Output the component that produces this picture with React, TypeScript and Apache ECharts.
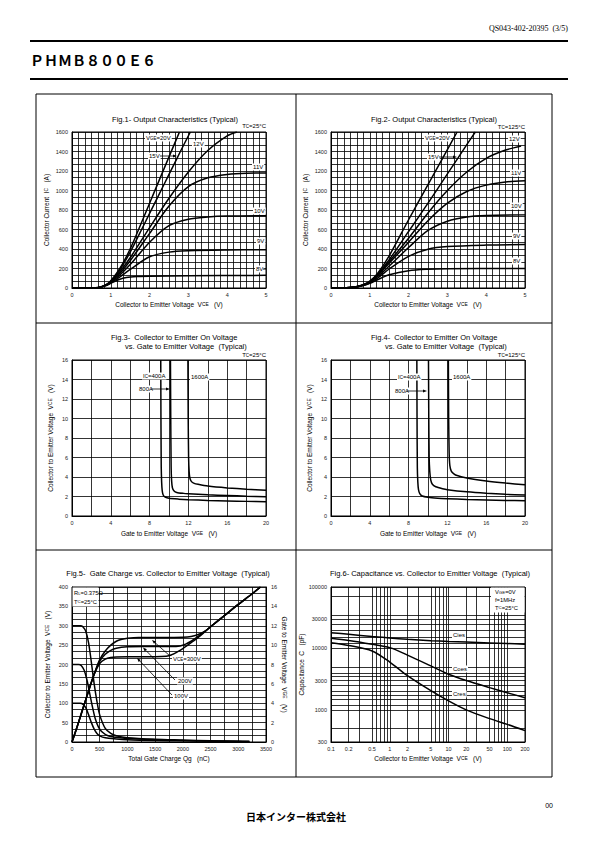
import React, { useEffect, useRef } from "react";
import * as echarts from "echarts";

const SANS = "'Liberation Sans', Arial, Helvetica, sans-serif";
const SERIF = "'Liberation Serif', 'DejaVu Serif', serif";
const CJK = "'Noto Sans CJK JP', 'Noto Sans CJK SC', sans-serif";

// ---------------- Fig.1  Output characteristics, Tc=25°C  [VCE (V), IC (A)]
const fig1Vge20 = [[0,0],[0.5,0],[0.7,6],[0.9,40],[1.0,75],[1.2,180],[1.4,320],[1.6,490],[1.8,680],[2.0,870],[2.2,1060],[2.4,1250],[2.6,1440],[2.77,1600]];
const fig1Vge15 = [[0,0],[0.5,0],[0.7,6],[0.9,38],[1.0,70],[1.2,165],[1.4,295],[1.6,445],[1.8,605],[2.0,765],[2.2,925],[2.4,1085],[2.6,1245],[2.8,1405],[3.05,1600]];
const fig1Vge12 = [[0,0],[0.5,0],[0.7,6],[0.9,36],[1.0,65],[1.2,150],[1.5,310],[2.0,620],[2.5,920],[3.0,1190],[3.5,1410],[4.0,1560],[4.25,1600]];
const fig1Vge11 = [[0,0],[0.5,0],[0.7,6],[0.9,34],[1.0,62],[1.2,135],[1.5,280],[2.0,560],[2.5,840],[3.0,1040],[3.5,1130],[4.0,1165],[4.5,1178],[5.0,1180]];
const fig1Vge10 = [[0,0],[0.5,0],[0.7,5],[0.9,32],[1.0,58],[1.2,120],[1.5,240],[2.0,470],[2.5,640],[3.0,705],[3.5,728],[4.0,738],[5.0,742]];
const fig1Vge9 = [[0,0],[0.5,0],[0.7,5],[0.9,30],[1.0,54],[1.2,105],[1.5,190],[2.0,320],[2.5,368],[3.0,382],[4.0,390],[5.0,393]];
const fig1Vge8 = [[0,0],[0.5,0],[0.7,5],[0.9,28],[1.0,48],[1.2,85],[1.4,108],[1.7,118],[2.0,121],[3.0,125],[5.0,130]];

// ---------------- Fig.2  Output characteristics, Tc=125°C  [VCE (V), IC (A)]
const fig2Vge20 = [[0,0],[0.3,0],[0.5,4],[0.7,18],[0.9,48],[1.0,70],[1.2,150],[1.5,330],[2.0,700],[2.5,1060],[3.0,1420],[3.25,1600]];
const fig2Vge15 = [[0,0],[0.3,0],[0.5,4],[0.7,17],[0.9,45],[1.0,66],[1.2,140],[1.5,290],[2.0,580],[2.5,870],[3.0,1170],[3.5,1470],[3.72,1600]];
const fig2Vge12 = [[0,0],[0.3,0],[0.5,4],[0.7,16],[0.9,42],[1.0,62],[1.2,130],[1.5,270],[2.0,510],[2.5,770],[3.0,1000],[3.5,1190],[4.0,1330],[4.5,1415],[4.9,1455]];
const fig2Vge11 = [[0,0],[0.3,0],[0.5,4],[0.7,15],[0.9,40],[1.0,60],[1.2,125],[1.5,255],[2.0,470],[2.5,690],[3.0,870],[3.5,990],[4.0,1055],[4.5,1088],[5.0,1100]];
const fig2Vge10 = [[0,0],[0.3,0],[0.5,4],[0.7,15],[0.9,38],[1.0,57],[1.2,115],[1.5,225],[2.0,415],[2.5,590],[3.0,685],[3.5,728],[4.0,743],[5.0,750]];
const fig2Vge9 = [[0,0],[0.3,0],[0.5,4],[0.7,14],[0.9,36],[1.0,53],[1.2,100],[1.5,195],[2.0,325],[2.5,398],[3.0,425],[4.0,440],[5.0,445]];
const fig2Vge8 = [[0,0],[0.3,0],[0.5,3],[0.7,13],[0.9,33],[1.0,47],[1.2,85],[1.5,135],[2.0,178],[2.5,193],[3.0,198],[5.0,200]];

// ---------------- Fig.3  VCE(on) vs VGE, Tc=25°C  [VGE (V), VCE (V)]
const fig3Ic400 = [[9.15,16],[9.17,10],[9.2,5],[9.24,3.5],[9.3,2.6],[9.4,2.15],[9.6,1.95],[10,1.82],[11,1.73],[12,1.67],[14,1.6],[16,1.55],[18,1.5],[20,1.47]];
const fig3Ic800 = [[10.15,16],[10.18,10],[10.22,5],[10.27,3.6],[10.35,2.9],[10.5,2.6],[10.8,2.42],[11.5,2.32],[12,2.28],[14,2.17],[16,2.1],[18,2.03],[20,1.98]];
const fig3Ic1600 = [[11.95,16],[11.98,10],[12.02,6],[12.08,4.5],[12.15,3.9],[12.3,3.55],[12.6,3.35],[13,3.25],[14,3.07],[16,2.88],[18,2.75],[20,2.65]];

// ---------------- Fig.4  VCE(on) vs VGE, Tc=125°C  [VGE (V), VCE (V)]
const fig4Ic400 = [[8.85,16],[8.87,10],[8.9,5],[8.95,3.5],[9.02,2.7],[9.15,2.3],[9.4,2.05],[10,1.92],[11,1.83],[12,1.78],[14,1.7],[16,1.65],[18,1.6],[20,1.57]];
const fig4Ic800 = [[10.05,16],[10.08,10],[10.12,6],[10.18,4.6],[10.28,3.7],[10.45,3.25],[10.8,3.0],[11.5,2.8],[12,2.7],[14,2.48],[16,2.33],[18,2.22],[20,2.15]];
const fig4Ic1600 = [[12.1,16],[12.13,10],[12.18,6.5],[12.25,5.2],[12.4,4.6],[12.7,4.3],[13,4.15],[14,3.9],[16,3.6],[18,3.38],[20,3.2]];

// ---------------- Fig.5  Gate charge  [Qg (nC), VCE (V)] and [Qg (nC), VGE (V)]
const fig5Vce300 = [[0,300],[150,300],[200,297],[250,285],[300,255],[350,205],[400,150],[450,105],[500,70],[600,35],[700,22],[800,16],[1000,11],[1500,7],[2000,5],[2500,3],[3000,2],[3200,1]];
const fig5Vce200 = [[0,200],[120,200],[170,197],[220,185],[270,160],[320,125],[370,90],[420,60],[480,38],[550,25],[650,16],[800,12],[1000,9],[1500,6],[2000,4],[2500,3],[3200,1]];
const fig5Vce100 = [[0,100],[150,100],[200,97],[250,88],[300,70],[350,50],[400,33],[450,22],[500,16],[600,11],[800,8],[1000,6],[1500,4],[2000,3],[3200,1]];
const fig5Vge300 = [[0,0],[100,1.7],[200,3.5],[300,5.3],[400,7.0],[500,8.5],[600,9.4],[700,10.0],[800,10.4],[900,10.6],[1000,10.72],[1200,10.8],[1600,10.8],[2000,10.82],[2150,10.9],[2300,11.15],[2400,11.45],[2500,11.9],[2750,13.05],[3000,14.2],[3250,15.3],[3400,16]];
const fig5Vge200 = [[0,0],[100,1.7],[200,3.5],[300,5.3],[400,7.0],[500,8.35],[600,9.05],[700,9.45],[800,9.68],[1000,9.82],[1300,9.85],[1800,9.85],[1950,9.92],[2050,10.1],[2150,10.4],[2250,10.8],[2350,11.2],[2450,11.65],[2500,11.9],[2750,13.05],[3000,14.2],[3250,15.3],[3400,16]];
const fig5Vge100 = [[0,0],[100,1.7],[200,3.5],[300,5.3],[400,7.0],[500,8.1],[600,8.55],[700,8.72],[800,8.78],[1000,8.8],[1500,8.8],[1700,8.85],[1800,9.0],[1900,9.3],[2000,9.65],[2100,10.05],[2200,10.45],[2300,10.9],[2400,11.4],[2500,11.9],[2750,13.05],[3000,14.2],[3250,15.3],[3400,16]];

// ---------------- Fig.6  Capacitance  [VCE (V), C (pF)]
const fig6Cies = [[0.1,18000],[0.2,17000],[0.5,15600],[1,14800],[2,14100],[5,13400],[10,13000],[20,12700],[50,12300],[100,12000],[200,11700]];
const fig6Coes = [[0.1,14600],[0.2,13500],[0.5,11700],[1,10300],[2,7800],[5,5200],[10,3800],[20,3000],[50,2300],[100,1900],[200,1580]];
const fig6Cres = [[0.1,12400],[0.2,11200],[0.5,9100],[1,6000],[2,3600],[5,2050],[10,1400],[20,1000],[50,720],[100,580],[200,460]];
const fig6XLabels = [0.1, 0.2, 0.5, 1, 2, 5, 10, 20, 50, 100, 200];
const fig6XGrid = [0.1,0.2,0.3,0.5,0.6,0.7,0.8,0.9,1,2,3,5,6,7,8,9,10,20,30,50,60,70,80,90,100,200];
const fig6YLabels = [300, 1000, 3000, 10000, 30000, 100000];
const fig6YGrid = [300,500,1000,1200,1500,1700,2000,2500,3000,3500,4000,5000,10000,12000,15000,20000,25000,30000,35000,70000,100000];

// ---------------- helpers
const GRID_LINE = { color: "#000", width: 0.8 };
const sub = (size: number) => ({ s: { fontSize: size * 0.75, fontFamily: SANS, color: "#000" } });
const plain = (v: number) => String(v);
const LABEL = { fontSize: 5.5, fontFamily: SANS, color: "#222", margin: 4, formatter: plain };

function valAxis(gridIndex: number, min: number, max: number, interval: number, minor: number, extra: any = {}) {
  return {
    type: "value",
    gridIndex, min, max, interval,
    axisLine: { show: true, onZero: false, lineStyle: { color: "#000", width: 1 } },
    axisTick: { show: false },
    axisLabel: LABEL,
    splitLine: { show: true, lineStyle: GRID_LINE },
    minorTick: { show: false, splitNumber: minor || 5 },
    minorSplitLine: { show: !!minor, lineStyle: GRID_LINE },
    nameLocation: "middle",
    nameTextStyle: { fontSize: 6.5, fontFamily: SANS, color: "#000", rich: sub(6.5) },
    ...extra,
  };
}

function curve(data: number[][], xi: number, yi: number, smooth: number = 0.3) {
  return {
    type: "line", xAxisIndex: xi, yAxisIndex: yi, data,
    symbol: "none", showSymbol: false, smooth, silent: true, z: 3,
    lineStyle: { color: "#000", width: 1.5 },
  };
}

const logPts = (d: number[][]) => d.map(([x, y]) => [Math.log10(x), Math.log10(y)]);
const fmtNum = (v: number) => {
  const r = Math.pow(10, v);
  return r < 1 ? String(Math.round(r * 10) / 10) : String(Math.round(r));
};

function txt(x: number, y: number, text: string, o: any = {}) {
  const size = o.size ?? 6;
  return {
    type: "text", x, y, z: o.z ?? 20, silent: true,
    style: {
      text, fill: "#000", fontSize: size, fontFamily: o.family ?? SANS, fontWeight: o.weight ?? "normal",
      align: o.align ?? "left", textAlign: o.align ?? "left",
      verticalAlign: "middle", textVerticalAlign: "middle",
      backgroundColor: o.bg, padding: o.bg ? [0.5, 1] : 0,
      rich: sub(size),
    },
  };
}

function arrow(x1: number, y1: number, x2: number, y2: number) {
  const a = Math.atan2(y2 - y1, x2 - x1);
  const L = 4, W = 1.5;
  const bx = x2 - L * Math.cos(a), by = y2 - L * Math.sin(a);
  const px = -Math.sin(a) * W, py = Math.cos(a) * W;
  return [
    { type: "line", z: 20, silent: true, shape: { x1, y1, x2: bx, y2: by }, style: { stroke: "#000", lineWidth: 0.8 } },
    { type: "polygon", z: 20, silent: true, shape: { points: [[x2, y2], [bx + px, by + py], [bx - px, by - py]] }, style: { fill: "#000" } },
  ];
}

function hline(x1: number, x2: number, y: number, w = 1) {
  return { type: "line", z: 1, silent: true, shape: { x1, y1: y, x2, y2: y }, style: { stroke: "#000", lineWidth: w } };
}
function vline(x: number, y1: number, y2: number, w = 1) {
  return { type: "line", z: 1, silent: true, shape: { x1: x, y1, x2: x, y2 }, style: { stroke: "#000", lineWidth: w } };
}

function buildOption() {
  const gridRects = [
    { left: 72, top: 132, width: 194, height: 156 },
    { left: 331, top: 132, width: 194, height: 156 },
    { left: 72, top: 360, width: 194, height: 156 },
    { left: 331, top: 360, width: 194, height: 156 },
    { left: 72, top: 587, width: 194, height: 155 },
    { left: 331, top: 587, width: 194, height: 155 },
  ];
  const grid = gridRects.map((g) => ({ ...g, show: true, borderColor: "#000", borderWidth: 1, backgroundColor: "transparent", containLabel: false, outerBoundsMode: "none" }));

  const vceName = "Collector to Emitter Voltage  V{s|CE}   (V)";
  const vgeName = "Gate to Emitter Voltage  V{s|GE}   (V)";

  const xAxis = [
    valAxis(0, 0, 5, 1, 6, { name: vceName, nameGap: 13 }),
    valAxis(1, 0, 5, 1, 6, { name: vceName, nameGap: 13 }),
    valAxis(2, 0, 20, 4, 2, { name: vgeName, nameGap: 14 }),
    valAxis(3, 0, 20, 4, 2, { name: vgeName, nameGap: 14 }),
    valAxis(4, 0, 3500, 500, 2, { name: "Total Gate Charge Qg   (nC)", nameGap: 13 }),
    valAxis(5, -1, Math.log10(200), 1, 0, {
      name: vceName, nameGap: 13,
      axisTick: { show: false, customValues: fig6XGrid.map(Math.log10) },
      axisLabel: { ...LABEL, customValues: fig6XLabels.map(Math.log10), formatter: fmtNum },
    }),
  ];
  const yAxis = [
    valAxis(0, 0, 1600, 200, 3, { name: "Collector Current  I{s|C}   (A)", nameGap: 22 }),
    valAxis(1, 0, 1600, 200, 3, { name: "Collector Current  I{s|C}   (A)", nameGap: 22 }),
    valAxis(2, 0, 16, 2, 0, { name: vceName, nameGap: 18 }),
    valAxis(3, 0, 16, 2, 0, { name: vceName, nameGap: 18 }),
    valAxis(4, 0, 400, 50, 3, { name: vceName, nameGap: 21 }),
    valAxis(4, 0, 16, 2, 0, { position: "right", name: vgeName, nameGap: 15, nameRotate: -90, splitLine: { show: false }, axisLabel: { ...LABEL, margin: 5 } }),
    valAxis(5, Math.log10(300), 5, 1, 0, {
      name: "Capacitance  C   (pF)", nameGap: 23,
      axisTick: { show: false, customValues: fig6YGrid.map(Math.log10) },
      axisLabel: { ...LABEL, customValues: fig6YLabels.map(Math.log10), formatter: fmtNum },
    }),
  ];

  const series = [
    ...[fig1Vge20, fig1Vge15, fig1Vge12, fig1Vge11, fig1Vge10, fig1Vge9, fig1Vge8].map((d) => curve(d, 0, 0)),
    ...[fig2Vge20, fig2Vge15, fig2Vge12, fig2Vge11, fig2Vge10, fig2Vge9, fig2Vge8].map((d) => curve(d, 1, 1)),
    ...[fig3Ic400, fig3Ic800, fig3Ic1600].map((d) => curve(d, 2, 2, 0.2)),
    ...[fig4Ic400, fig4Ic800, fig4Ic1600].map((d) => curve(d, 3, 3, 0.2)),
    ...[fig5Vce300, fig5Vce200, fig5Vce100].map((d) => curve(d, 4, 4)),
    ...[fig5Vge300, fig5Vge200, fig5Vge100].map((d) => curve(d, 4, 5)),
    ...[fig6Cies, fig6Coes, fig6Cres].map((d) => curve(logPts(d), 5, 6)),
  ];

  const elements: any[] = [
    // page header
    txt(568, 28, "QS043-402-20395  (3/5)", { size: 8, family: SERIF, align: "right" }),
    hline(30, 568, 41, 2),
    txt(30, 60, "ＰＨＭＢ８００Ｅ６", { size: 14, family: CJK, weight: "bold" }),
    hline(30, 568, 79, 2),
    // frame
    { type: "rect", z: 1, silent: true, shape: { x: 36, y: 94, width: 516, height: 683 }, style: { fill: "none", stroke: "#000", lineWidth: 1 } },
    vline(296, 94, 777),
    hline(36, 552, 323),
    hline(36, 552, 550),
    // footer
    txt(553, 805, "00", { size: 7, align: "right" }),
    txt(296, 816, "日本インター株式会社", { size: 10, family: CJK, weight: "bold", align: "center" }),

    // Fig.1
    txt(175, 119, "Fig.1- Output Characteristics (Typical)", { size: 7.5, align: "center" }),
    txt(266, 126, "T{s|C}=25°C", { size: 6, align: "right" }),
    txt(145, 138, "V{s|GE}=20V", { bg: "#fff" }),
    txt(192, 144, "12V", { bg: "#fff" }),
    txt(148, 156, "15V", { bg: "#fff" }),
    ...arrow(160, 156, 177, 156),
    txt(252, 167, "11V", { bg: "#fff" }),
    txt(253, 211, "10V", { bg: "#fff" }),
    txt(256, 241, "9V", { bg: "#fff" }),
    txt(255, 269, "8V", { bg: "#fff" }),
    { type: "line", z: 20, silent: true, shape: { x1: 263, y1: 269, x2: 266, y2: 269 }, style: { stroke: "#000", lineWidth: 1 } },

    // Fig.2
    txt(434, 119, "Fig.2- Output Characteristics (Typical)", { size: 7.5, align: "center" }),
    txt(525, 127, "T{s|C}=125°C", { size: 6, align: "right" }),
    txt(424, 138, "V{s|GE}=20V", { bg: "#fff" }),
    txt(508, 139, "12V", { bg: "#fff" }),
    txt(427, 157, "15V", { bg: "#fff" }),
    ...arrow(439, 157, 457, 157),
    txt(510, 173, "11V", { bg: "#fff" }),
    txt(510, 206, "10V", { bg: "#fff" }),
    txt(512, 236, "9V", { bg: "#fff" }),
    txt(512, 261, "8V", { bg: "#fff" }),

    // Fig.3
    txt(111, 337, "Fig.3-  Collector to Emitter On Voltage", { size: 7.5 }),
    txt(125, 346, "vs. Gate to Emitter Voltage  (Typical)", { size: 7.5 }),
    txt(266, 355, "T{s|C}=25°C", { size: 6, align: "right" }),
    txt(142, 376, "I{s|C}=400A", { bg: "#fff" }),
    txt(190, 377, "1600A", { bg: "#fff" }),
    txt(138, 389, "800A", { bg: "#fff" }),
    ...arrow(151, 389, 170, 389),

    // Fig.4
    txt(371, 337, "Fig.4-  Collector to Emitter On Voltage", { size: 7.5 }),
    txt(385, 346, "vs. Gate to Emitter Voltage  (Typical)", { size: 7.5 }),
    txt(525, 355, "T{s|C}=125°C", { size: 6, align: "right" }),
    txt(397, 377, "I{s|C}=400A", { bg: "#fff" }),
    txt(452, 377, "1600A", { bg: "#fff" }),
    txt(394, 391, "800A", { bg: "#fff" }),
    ...arrow(407, 391, 427, 391),

    // Fig.5
    txt(168, 573, "Fig.5-  Gate Charge vs. Collector to Emitter Voltage  (Typical)", { size: 7.5, align: "center" }),
    { type: "rect", z: 5, silent: true, shape: { x: 72.5, y: 587.5, width: 26, height: 19 }, style: { fill: "#fff" } },
    txt(74, 593, "R{s|L}=0.375Ω", { size: 5.8 }),
    txt(74, 601.5, "T{s|C}=25°C", { size: 5.8 }),
    txt(172, 659, "V{s|CE}=300V", { bg: "#fff" }),
    ...arrow(170, 656, 152, 640),
    txt(177, 681, "200V", { bg: "#fff" }),
    ...arrow(175, 680, 143, 647.5),
    txt(173, 696, "100V", { bg: "#fff" }),
    ...arrow(172, 695, 137, 658),

    // Fig.6
    txt(430, 573, "Fig.6- Capacitance vs. Collector to Emitter Voltage  (Typical)", { size: 7.5, align: "center" }),
    { type: "rect", z: 5, silent: true, shape: { x: 491, y: 587.5, width: 33.5, height: 25 }, style: { fill: "#fff" } },
    txt(495, 592, "V{s|GE}=0V", { size: 5.8 }),
    txt(495, 599.5, "f=1MHz", { size: 5.8 }),
    txt(495, 607.5, "T{s|C}=25°C", { size: 5.8 }),
    txt(452, 635, "Cies", { bg: "#fff" }),
    txt(452, 669, "Coes", { bg: "#fff" }),
    txt(452, 694, "Cres", { bg: "#fff" }),
  ];

  return {
    animation: false,
    backgroundColor: "#fff",
    textStyle: { fontFamily: SANS },
    grid, xAxis, yAxis, series,
    graphic: { elements },
  };
}

export default function App() {
  const ref = useRef<HTMLDivElement>(null);
  useEffect(() => {
    if (!ref.current) return;
    const chart = echarts.init(ref.current, null, { renderer: "svg", width: 595, height: 842 });
    chart.setOption(buildOption() as any);
    return () => chart.dispose();
  }, []);
  return <div ref={ref} style={{ position: "absolute", left: 0, top: 0, width: 595, height: 842, background: "#fff" }} />;
}
